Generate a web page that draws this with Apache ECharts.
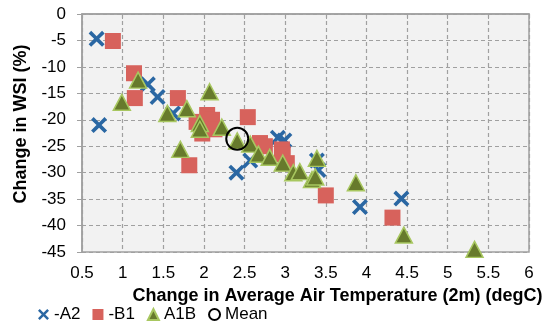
<!DOCTYPE html>
<html>
<head>
<meta charset="utf-8">
<script src="https://cdn.jsdelivr.net/npm/echarts@6/dist/echarts.min.js"></script>
<style>html,body{margin:0;padding:0;background:#fff}#c{width:547px;height:328px}</style>
</head>
<body>
<div id="c"></div>
<script>
// Data (x = change in temperature degC, y = change in WSI %)
const xTicks = [0.5, 1, 1.5, 2, 2.5, 3, 3.5, 4, 4.5, 5, 5.5, 6];
const yTicks = [0, -5, -10, -15, -20, -25, -30, -35, -40, -45];
const seriesNames = ['-A2', '-B1', 'A1B', 'Mean'];
const a2 = [[0.68,-4.7],[0.71,-21.0],[1.31,-13.3],[1.43,-15.7],[1.62,-18.8],[2.40,-30.0],[2.57,-27.7],[2.91,-23.4],[2.99,-23.9],[3.39,-27.7],[3.41,-29.5],[3.92,-36.5],[4.43,-34.9]];
const b1 = [[0.88,-5.1],[1.14,-11.2],[1.15,-15.9],[1.68,-15.9],[1.82,-28.6],[1.91,-20.4],[1.98,-22.6],[2.04,-19.1],[2.10,-20.0],[2.13,-21.8],[2.54,-19.5],[2.69,-24.4],[2.75,-25.0],[2.96,-25.6],[2.97,-26.5],[3.02,-28.2],[3.50,-34.3],[4.32,-38.5]];
const a1b = [[0.99,-16.7],[1.19,-12.5],[1.55,-18.8],[1.71,-25.6],[1.79,-17.9],[1.95,-20.7],[1.95,-21.8],[2.07,-14.7],[2.22,-21.4],[2.41,-24.0],[2.57,-24.6],[2.67,-26.5],[2.81,-27.1],[2.97,-28.2],[3.10,-30.0],[3.18,-29.8],[3.33,-31.3],[3.37,-30.8],[3.39,-27.3],[3.87,-31.9],[4.46,-41.8],[5.33,-44.5]];
const mean = [[2.41,-23.6]];

const xPath = 'path://M1.6,0 L5,3.4 L8.4,0 L10,1.6 L6.6,5 L10,8.4 L8.4,10 L5,6.6 L1.6,10 L0,8.4 L3.4,5 L0,1.6 Z';
const font = 'Liberation Sans, Arial, sans-serif';

const chart = echarts.init(document.getElementById('c'));
chart.setOption({
  animation: false,
  textStyle: {fontFamily: font},
  grid: {left: 82, right: 18, top: 14, bottom: 76, show: true, backgroundColor: '#f2f2f2', borderColor: '#a0a0a0', borderWidth: 1.5},
  legend: {
    left: 38, top: 306, itemWidth: 11, itemHeight: 11, itemGap: 12, padding: 0,
    textStyle: {fontSize: 17, color: '#000', fontFamily: font},
    data: [
      {name: seriesNames[0], icon: xPath},
      {name: seriesNames[1], icon: 'rect'},
      {name: seriesNames[2], icon: 'triangle'},
      {name: seriesNames[3], icon: 'circle'}
    ]
  },
  xAxis: {
    type: 'value', min: xTicks[0], max: xTicks[xTicks.length-1], interval: 0.5,
    name: 'Change in Average Air Temperature (2m) (degC)', nameLocation: 'middle', nameGap: 31,
    nameTextStyle: {fontSize: 18, fontWeight: 'bold', color: '#000', padding: [0,0,0,64]},
    axisLine: {lineStyle: {color: '#a0a0a0', width: 1.5}},
    axisTick: {show: true, length: 5, lineStyle: {color: '#a0a0a0'}},
    axisLabel: {fontSize: 17, color: '#000', margin: 13},
    splitLine: {show: true, lineStyle: {color: '#a0a0a0', type: [4,3], width: 1.2}}
  },
  yAxis: {
    type: 'value', min: yTicks[yTicks.length-1], max: yTicks[0], interval: 5,
    name: 'Change in WSI (%)', nameLocation: 'middle', nameGap: 51,
    nameTextStyle: {fontSize: 18, fontWeight: 'bold', color: '#000', padding: [0,0,0,18]},
    axisLine: {show: true, lineStyle: {color: '#a0a0a0', width: 1.5}},
    axisTick: {show: true, length: 5, lineStyle: {color: '#a0a0a0'}},
    axisLabel: {fontSize: 17, color: '#000', margin: 16},
    splitLine: {show: true, lineStyle: {color: '#a0a0a0', type: [4,3], width: 1.2}}
  },
  series: [
    {name: seriesNames[0], type: 'scatter', data: a2, symbol: xPath, symbolSize: 16,
     itemStyle: {color: '#2a67a3', opacity: 1}},
    {name: seriesNames[1], type: 'scatter', data: b1, symbol: 'rect', symbolSize: 16,
     itemStyle: {color: '#d7625c', opacity: 1}},
    {name: seriesNames[2], type: 'scatter', data: a1b, symbol: 'triangle', symbolSize: [17,16],
     itemStyle: {color: '#677a2c', borderColor: '#a8c760', borderWidth: 1.5, opacity: 1}},
    {name: seriesNames[3], type: 'scatter', data: mean, symbol: 'circle', symbolSize: 22,
     itemStyle: {color: 'rgba(0,0,0,0)', borderColor: '#000', borderWidth: 2, opacity: 1}}
  ]
});
</script>
</body>
</html>
